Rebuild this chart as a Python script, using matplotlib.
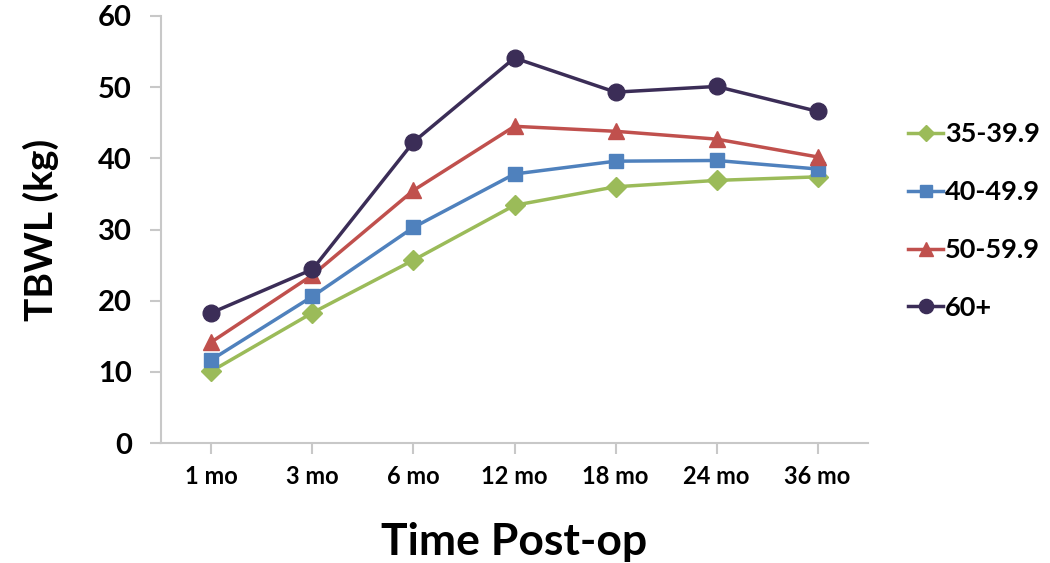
import matplotlib.pyplot as plt

months = ['1 mo', '3 mo', '6 mo', '12 mo', '18 mo', '24 mo', '36 mo']
groups = ['35-39.9', '40-49.9', '50-59.9', '60+']

bmi_35 = [10.1, 18.3, 25.7, 33.4, 36.0, 36.9, 37.4]
bmi_40 = [11.7, 20.6, 30.3, 37.8, 39.6, 39.7, 38.5]
bmi_50 = [14.2, 23.6, 35.5, 44.5, 43.8, 42.7, 40.2]
bmi_60 = [18.3, 24.4, 42.3, 54.1, 49.3, 50.1, 46.6]

plt.rcParams['font.family'] = ['Lato', 'DejaVu Sans']
plt.rcParams['font.weight'] = 'bold'

fig = plt.figure(figsize=(10.5, 5.63), dpi=100)
ax = fig.add_axes([0.1533, 0.2131, 0.6734, 0.7585])

x = range(len(months))
styles = [
    (bmi_35, '#9BBB59', 'D', 10),
    (bmi_40, '#4F81BD', 's', 10),
    (bmi_50, '#C0504D', '^', 12),
    (bmi_60, '#3B2D57', 'o', 12),
]
for (vals, col, mk, ms), name in zip(styles, groups):
    ax.plot(x, vals, color=col, marker=mk, markersize=ms, linewidth=2.5,
            label=name)

ax.set_xlim(-0.5, len(months) - 0.5)
ax.set_ylim(0, 60)
ax.set_yticks(range(0, 61, 10))
ax.set_xticks(list(x))
ax.set_xticklabels(months)

for s in ['top', 'right']:
    ax.spines[s].set_visible(False)
for s in ['left', 'bottom']:
    ax.spines[s].set_color('#c8c8c8')
    ax.spines[s].set_linewidth(1.5)
ax.tick_params(axis='both', direction='out', length=8, width=1.5,
               color='#c8c8c8')
ax.tick_params(axis='y', labelsize=21, pad=13)
ax.tick_params(axis='x', labelsize=17, pad=8)
for lbl in ax.get_xticklabels() + ax.get_yticklabels():
    lbl.set_fontweight('bold')

ax.set_xlabel('Time Post-op', fontsize=32, fontweight='bold', labelpad=24)
ax.set_ylabel('TBWL (kg)', fontsize=28, fontweight='bold', labelpad=28)

leg = fig.legend(loc='upper left', bbox_to_anchor=(0.842, 0.826),
                 frameon=False, fontsize=19.5, handlelength=1.26,
                 handletextpad=0.1, labelspacing=1.25, markerscale=0.85)
for t in leg.get_texts():
    t.set_fontweight('bold')

fig.savefig('out.png', dpi=100)
